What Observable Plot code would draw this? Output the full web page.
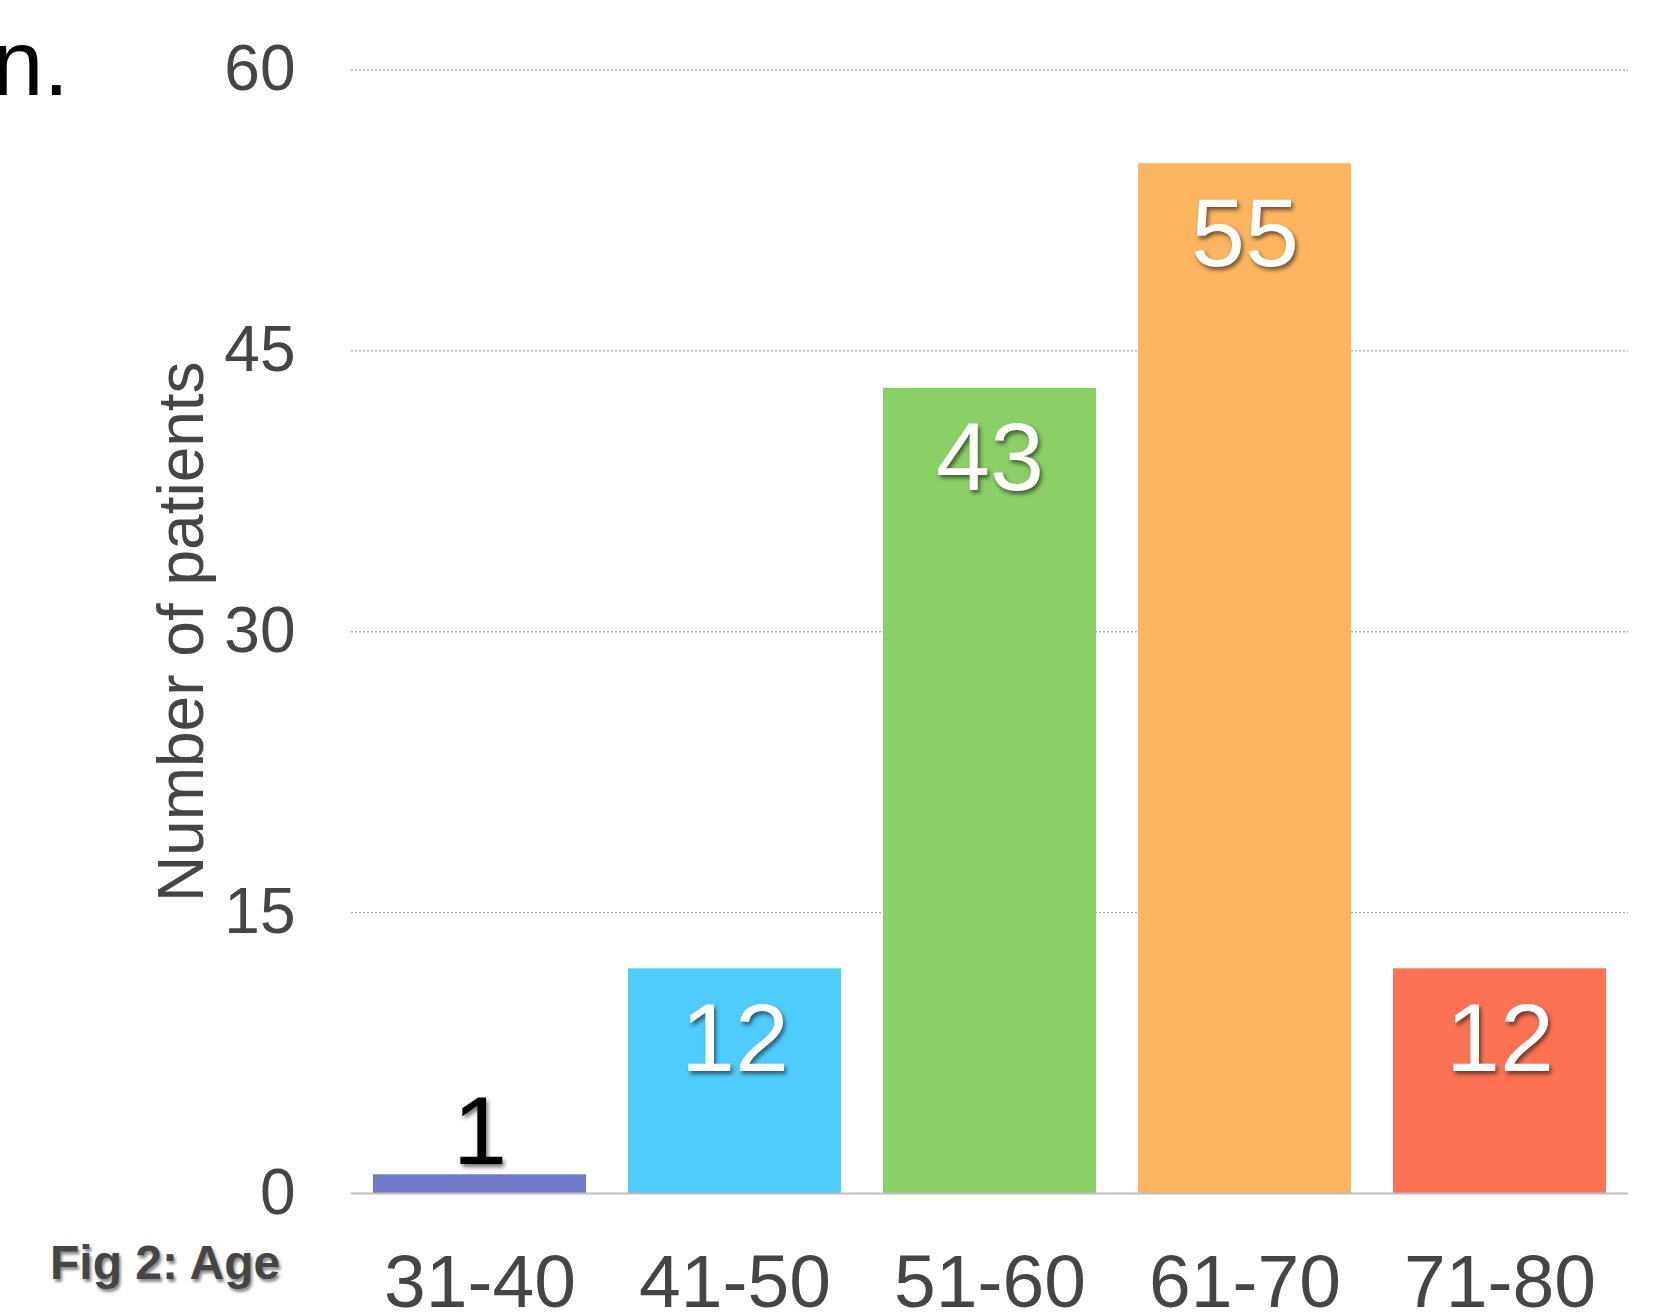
<!DOCTYPE html>
<html><head><meta charset="utf-8">
<script src="https://cdn.jsdelivr.net/npm/d3@7"></script>
<script src="https://cdn.jsdelivr.net/npm/@observablehq/plot@0.6"></script>
<style>
body{margin:0;background:#fff;}
#wrap{position:relative;width:1654px;height:1315px;overflow:hidden;font-family:"Liberation Sans",Arial,sans-serif;}
#wrap svg{position:absolute;left:0;top:0;}
.note{position:absolute;white-space:nowrap;line-height:1;}
#head{font-size:92px;color:#000;right:1585px;top:17px;}
#cap{font-family:"Liberation Sans",Arial,sans-serif;font-weight:bold;font-size:48px;color:#454545;left:50px;top:1239px;text-shadow:2px 3px 3px rgba(0,0,0,0.45);}
</style></head><body>
<div id="wrap">
<div class="note" id="head"></div>
<div class="note" id="cap"></div>
</div>
<script>
const ageGroups = ["31-40", "41-50", "51-60", "61-70", "71-80"];
const patients = [1, 12, 43, 55, 12];
const barColors = ["#727bca", "#4ecdfd", "#8bcf67", "#fdb55f", "#fd7254"];
const yTicks = [0, 15, 30, 45, 60];
const yLabel = "Number of patients";
const captionText = "Fig 2: Age";
const headingText = "n.";

document.getElementById("head").textContent = headingText;
document.getElementById("cap").textContent = captionText;

const data = ageGroups.map((g, i) => ({group: g, value: patients[i]}));

const chart = Plot.plot({
  width: 1654,
  height: 1315,
  marginLeft: 351,
  marginRight: 26,
  marginTop: 69.5,
  marginBottom: 122,
  style: {fontFamily: '"Liberation Sans", Arial, sans-serif', background: "transparent", overflow: "visible"},
  x: {domain: ageGroups, paddingInner: 0.165, paddingOuter: 0.0825},
  y: {domain: [0, 60]},
  color: {domain: ageGroups, range: barColors},
  marks: [
    Plot.ruleY(yTicks.filter(t => t > 0), {stroke: "#aaaaaa", strokeDasharray: "2,2", strokeWidth: 1.3}),
    Plot.barY(data, {x: "group", y: "value", fill: "group"}),
    Plot.ruleY([0], {stroke: "#bdbdbd", strokeWidth: 2}),
    Plot.axisY(yTicks, {tickSize: 0, tickPadding: 56, fontSize: 64, fill: "#454545", label: yLabel, labelArrow: "none", labelAnchor: "center", labelOffset: 194}),
    Plot.axisX({tickSize: 0, tickPadding: 60, fontSize: 75, fill: "#454545", label: null}),
    Plot.text(data.filter(d => d.value >= 5), {x: "group", y: "value", text: d => String(d.value), fill: "white", fontSize: 97, lineAnchor: "middle", dy: 71}),
    Plot.text(data.filter(d => d.value < 5), {x: "group", y: "value", text: d => String(d.value), fill: "black", fontSize: 97, lineAnchor: "middle", dy: -42})
  ]
});

document.getElementById("wrap").prepend(chart);
d3.select(chart).selectAll('g[aria-label="text"] text')
  .style("filter", "drop-shadow(2px 3px 2px rgba(0,0,0,0.55))");
</script>
</body></html>
